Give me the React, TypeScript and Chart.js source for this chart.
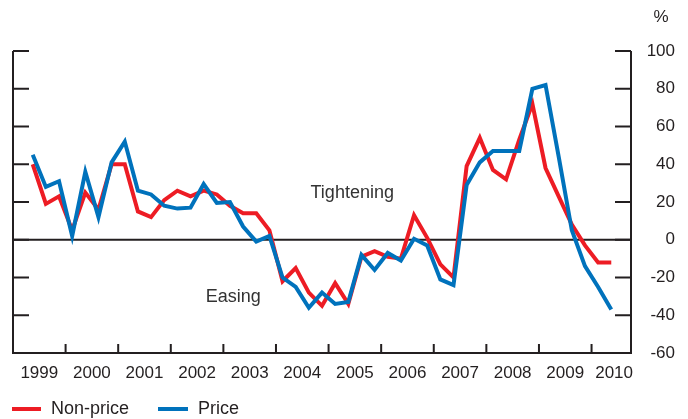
import React, { useEffect, useRef } from "react";
import { Chart, registerables } from "chart.js";

Chart.register(...registerables);

const quarters = [
  "1999Q2", "1999Q3", "1999Q4",
  "2000Q1", "2000Q2", "2000Q3", "2000Q4",
  "2001Q1", "2001Q2", "2001Q3", "2001Q4",
  "2002Q1", "2002Q2", "2002Q3", "2002Q4",
  "2003Q1", "2003Q2", "2003Q3", "2003Q4",
  "2004Q1", "2004Q2", "2004Q3", "2004Q4",
  "2005Q1", "2005Q2", "2005Q3", "2005Q4",
  "2006Q1", "2006Q2", "2006Q3", "2006Q4",
  "2007Q1", "2007Q2", "2007Q3", "2007Q4",
  "2008Q1", "2008Q2", "2008Q3", "2008Q4",
  "2009Q1", "2009Q2", "2009Q3", "2009Q4",
  "2010Q1", "2010Q2",
];

const nonPrice = [
  40, 19, 23, 5, 25, 16, 40, 40, 15, 12, 21, 26, 23, 26, 24, 18, 14, 14, 5, -22,
  -15, -28, -35, -23, -34, -9, -6, -9, -10, 13, 1, -13, -20, 39, 54, 37, 32, 53,
  72, 38, 23, 8, -3, -12, -12,
];

const price = [
  45, 28, 31, 2, 36, 12, 41, 52, 26, 24, 18, 16.5, 17, 29.5, 19.5, 20, 7, -1, 2,
  -20, -25, -36, -28, -34, -33, -8, -16, -7, -11, 0.5, -3, -21, -24, 29, 41, 47,
  47, 47, 80, 82, 44, 5, -14, -25, -37,
];

const years = ["1999", "2000", "2001", "2002", "2003", "2004", "2005", "2006", "2007", "2008", "2009", "2010"];
const yTicks = [100, 80, 60, 40, 20, 0, -20, -40, -60];

const FIRST_YEAR = 1999;
const X_MAX_QUARTERS = 47; // axis ends at end of 2010Q3
const FONT = '"Liberation Sans", Arial, Helvetica, sans-serif';
const INK = "#231F20";
const RED = "#ED1C24";
const BLUE = "#0072BC";

function quarterPos(label: string): number {
  const yr = parseInt(label.slice(0, 4), 10);
  const q = parseInt(label.slice(5), 10);
  return (yr - FIRST_YEAR) * 4 + (q - 1) + 0.5;
}

const decorPlugin = {
  id: "decor",
  beforeDatasetsDraw(chart: any) {
    const { ctx, chartArea: a, scales } = chart;
    const y = scales.y;
    ctx.save();
    ctx.strokeStyle = INK;
    ctx.lineWidth = 2;
    const y0 = y.getPixelForValue(0);
    ctx.beginPath();
    ctx.moveTo(a.left, y0);
    ctx.lineTo(a.right, y0);
    ctx.stroke();
    ctx.restore();
  },
  afterDatasetsDraw(chart: any) {
    const { ctx, chartArea: a, scales } = chart;
    const x = scales.x;
    const y = scales.y;
    ctx.save();
    ctx.strokeStyle = INK;
    ctx.lineWidth = 2;
    // frame: left, bottom, right
    ctx.beginPath();
    ctx.moveTo(a.left, a.top);
    ctx.lineTo(a.left, a.bottom);
    ctx.lineTo(a.right, a.bottom);
    ctx.lineTo(a.right, a.top);
    ctx.stroke();
    // y ticks (inward) on both sides
    ctx.beginPath();
    for (const v of yTicks) {
      const py = y.getPixelForValue(v);
      ctx.moveTo(a.left, py);
      ctx.lineTo(a.left + 16, py);
      ctx.moveTo(a.right - 16, py);
      ctx.lineTo(a.right, py);
    }
    // x ticks at year boundaries
    for (let i = 1; i < years.length; i++) {
      const px = x.getPixelForValue(i * 4);
      ctx.moveTo(px, a.bottom);
      ctx.lineTo(px, a.bottom - 9);
    }
    ctx.stroke();

    ctx.fillStyle = INK;
    ctx.font = `17px ${FONT}`;
    // right y labels
    ctx.textAlign = "right";
    ctx.textBaseline = "middle";
    for (const v of yTicks) {
      ctx.fillText(String(v), 675, y.getPixelForValue(v));
    }
    ctx.textAlign = "center";
    ctx.fillText("%", 661, 17);
    // year labels
    ctx.textBaseline = "middle";
    for (let i = 0; i < years.length; i++) {
      let cx = x.getPixelForValue(i * 4 + 2);
      const w = ctx.measureText(years[i]).width;
      if (cx + w / 2 > a.right + 2) cx = a.right + 2 - w / 2;
      ctx.fillText(years[i], cx, 373);
    }
    // annotations
    ctx.font = `18px ${FONT}`;
    ctx.fillStyle = "#333333";
    ctx.fillText("Tightening", x.getPixelForValue(25.8), y.getPixelForValue(24.6));
    ctx.fillText("Easing", x.getPixelForValue(16.75), y.getPixelForValue(-30.5));

    // legend
    ctx.fillStyle = INK;
    ctx.textAlign = "left";
    ctx.lineWidth = 4;
    const ly = 409;
    ctx.strokeStyle = RED;
    ctx.beginPath();
    ctx.moveTo(12, ly);
    ctx.lineTo(41, ly);
    ctx.stroke();
    ctx.fillText("Non-price", 51, ly);
    ctx.strokeStyle = BLUE;
    ctx.beginPath();
    ctx.moveTo(158, ly);
    ctx.lineTo(188, ly);
    ctx.stroke();
    ctx.fillText("Price", 198, ly);
    ctx.restore();
  },
};

export default function App() {
  const ref = useRef<HTMLCanvasElement | null>(null);
  useEffect(() => {
    if (!ref.current) return;
    const chart = new Chart(ref.current, {
      type: "line",
      data: {
        datasets: [
          {
            label: "Non-price",
            data: quarters.map((q, i) => ({ x: quarterPos(q), y: nonPrice[i] })),
            borderColor: RED,
            backgroundColor: RED,
            borderWidth: 4,
            pointRadius: 0,
            tension: 0,
            borderJoinStyle: "miter",
            order: 2,
          },
          {
            label: "Price",
            data: quarters.map((q, i) => ({ x: quarterPos(q), y: price[i] })),
            borderColor: BLUE,
            backgroundColor: BLUE,
            borderWidth: 4,
            pointRadius: 0,
            tension: 0,
            borderJoinStyle: "miter",
            order: 1,
          },
        ],
      },
      options: {
        responsive: false,
        animation: false,
        layout: { padding: { left: 13, right: 57, top: 51, bottom: 66 } },
        scales: {
          x: { type: "linear", display: false, min: 0, max: X_MAX_QUARTERS },
          y: { type: "linear", display: false, min: -60, max: 100 },
        },
        plugins: {
          legend: { display: false },
          tooltip: { enabled: false },
        },
      } as any,
      plugins: [decorPlugin],
    });
    return () => chart.destroy();
  }, []);
  return (
    <canvas
      ref={ref}
      width={688}
      height={419}
      style={{ position: "absolute", left: 0, top: 0, width: 688, height: 419, display: "block" }}
    />
  );
}
